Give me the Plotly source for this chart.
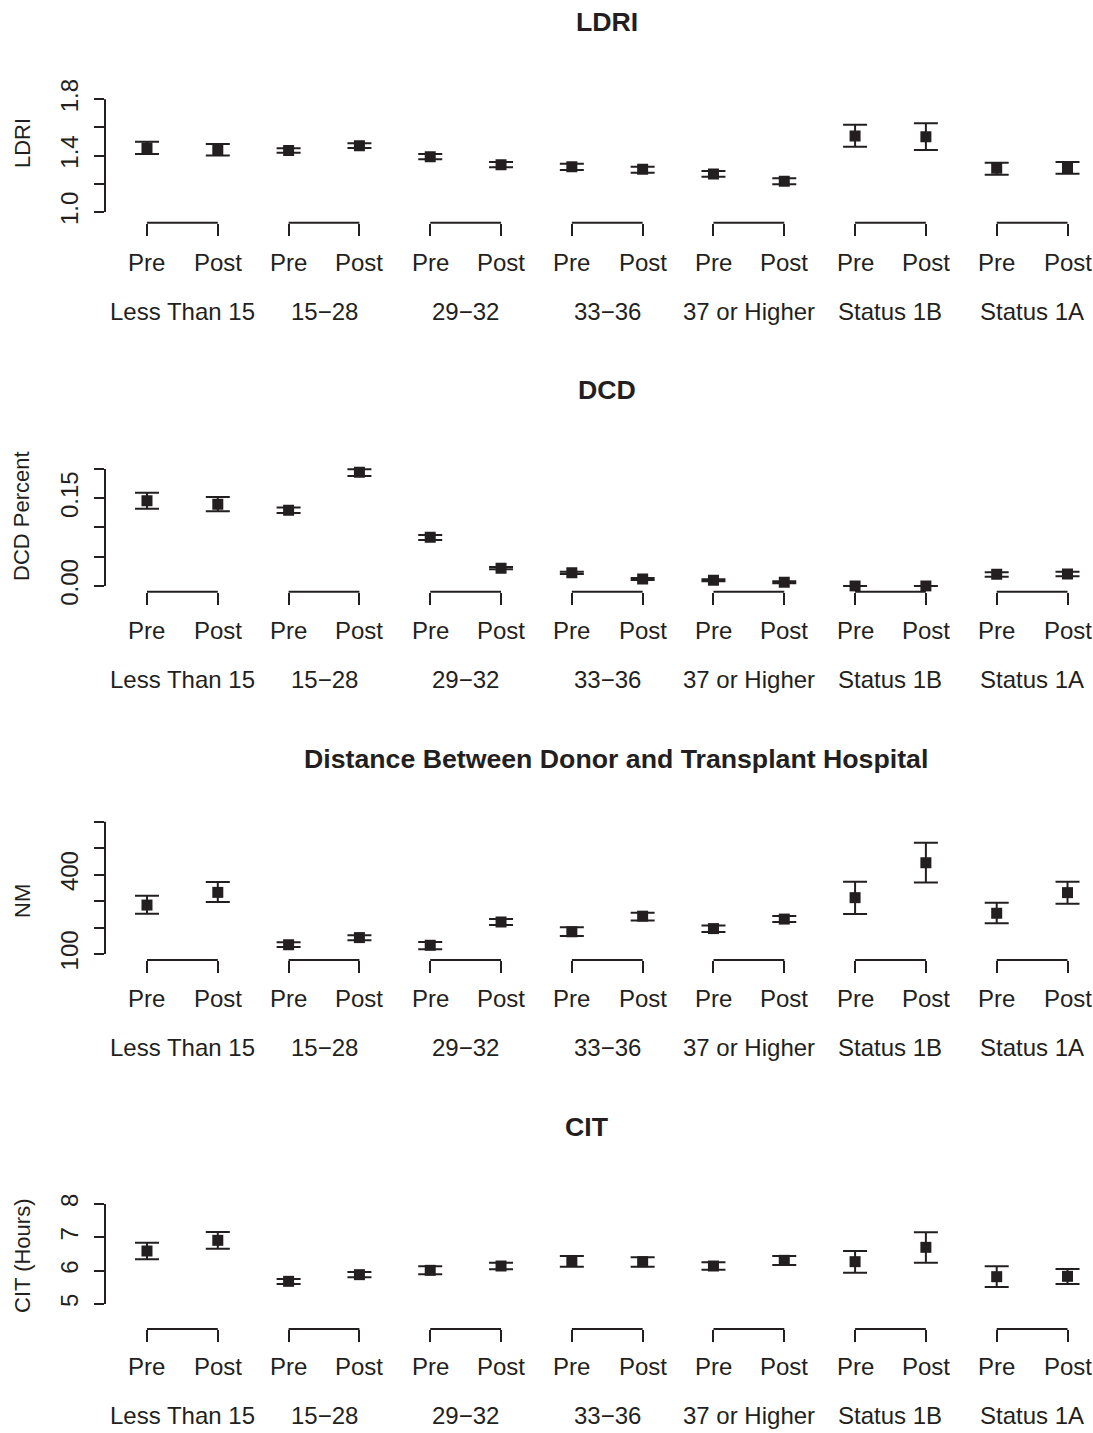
import plotly.graph_objects as go

# ---------------- data ----------------
groups = ["Less Than 15", "15\u221228", "29\u221232", "33\u221236", "37 or Higher", "Status 1B", "Status 1A"]
periods = ["Pre", "Post"]

ldri_mean = [1.454, 1.440, 1.437, 1.470, 1.392, 1.335, 1.321, 1.303, 1.270, 1.218, 1.539, 1.534, 1.310, 1.314]
ldri_low = [1.411, 1.400, 1.421, 1.454, 1.374, 1.317, 1.298, 1.279, 1.250, 1.196, 1.463, 1.440, 1.265, 1.272]
ldri_high = [1.499, 1.482, 1.452, 1.487, 1.411, 1.355, 1.343, 1.321, 1.291, 1.239, 1.619, 1.629, 1.350, 1.355]

dcd_mean = [0.1458, 0.1396, 0.1294, 0.1943, 0.0832, 0.0302, 0.0228, 0.0120, 0.0097, 0.0063, 0.0000, 0.0000, 0.0200, 0.0205]
dcd_low = [0.1320, 0.1277, 0.1248, 0.1880, 0.0786, 0.0285, 0.0205, 0.0103, 0.0080, 0.0046, 0.0000, 0.0000, 0.0160, 0.0165]
dcd_high = [0.1595, 0.1520, 0.1340, 0.1994, 0.0872, 0.0325, 0.0245, 0.0137, 0.0114, 0.0080, 0.0000, 0.0000, 0.0234, 0.0245]

nm_mean = [285, 333, 135, 162, 133, 221, 184, 243, 196, 232, 313, 445, 254, 332]
nm_low = [252, 297, 126, 152, 118, 210, 168, 227, 183, 221, 251, 370, 216, 290]
nm_high = [320, 372, 144, 171, 145, 232, 201, 256, 208, 244, 373, 521, 294, 373]

cit_mean = [6.59, 6.91, 5.68, 5.88, 6.01, 6.14, 6.29, 6.27, 6.14, 6.31, 6.27, 6.70, 5.82, 5.83]
cit_low = [6.34, 6.66, 5.60, 5.80, 5.89, 6.04, 6.12, 6.12, 6.03, 6.17, 5.94, 6.24, 5.51, 5.60]
cit_high = [6.84, 7.16, 5.75, 5.96, 6.13, 6.24, 6.44, 6.40, 6.25, 6.44, 6.59, 7.15, 6.13, 6.05]

titles = ["LDRI", "DCD", "Distance Between Donor and Transplant Hospital", "CIT"]
ytitles = ["LDRI", "DCD Percent", "NM", "CIT (Hours)"]
ytick_vals = [[1.0, 1.2, 1.4, 1.6, 1.8],
              [0.0, 0.05, 0.10, 0.15, 0.20],
              [100, 200, 300, 400, 500, 600],
              [5, 6, 7, 8]]
ytick_text = [["1.0", "", "1.4", "", "1.8"],
              ["0.00", "", "", "0.15", ""],
              ["100", "", "", "400", "", ""],
              ["5", "6", "7", "8"]]

series = [(ldri_mean, ldri_low, ldri_high),
          (dcd_mean, dcd_low, dcd_high),
          (nm_mean, nm_low, nm_high),
          (cit_mean, cit_low, cit_high)]

# ---------------- layout geometry (pixels) ----------------
W, H = 1093, 1433
INK = "#231f20"
FONT = "Liberation Sans, Arial, Helvetica, sans-serif"
period_px = 368.3
panel_dom = [(85, 222.7), (455, 591.7), (815, 960), (1190, 1329)]
panel_rng = [(0.9241, 1.9007), (-0.00974, 0.2239), (77.3, 625.5), (4.25, 8.42)]
title_x = [607, 607, 616, 587]
ytitle_y = [143, 516, 901, 1256]


def py(px):
    return 1 - px / H


x_left = 105 / W
x_pos = list(range(1, len(groups) * len(periods) + 1))
cat_labels = [p for g in groups for p in periods]

fig = go.Figure()
annotations = []
shapes = []
layout_axes = {}

for k in range(4):
    sfx = "" if k == 0 else str(k + 1)
    m, lo, hi = series[k]
    fig.add_trace(go.Scatter(
        x=x_pos, y=m, mode="markers",
        marker=dict(symbol="square", size=11, color=INK),
        error_y=dict(type="data", symmetric=False,
                     array=[h - v for h, v in zip(hi, m)],
                     arrayminus=[v - l for v, l in zip(m, lo)],
                     color=INK, thickness=2, width=12),
        xaxis="x" + sfx, yaxis="y" + sfx, showlegend=False, hoverinfo="skip"))

    top, bot = panel_dom[k]
    layout_axes["xaxis" + sfx] = dict(
        domain=[x_left, 1], range=[0.407, 14.36], anchor="y" + sfx,
        tickmode="array", tickvals=x_pos, ticks="outside", ticklen=12,
        tickwidth=2, tickcolor=INK, showticklabels=False,
        showline=False, showgrid=False, zeroline=False)
    layout_axes["yaxis" + sfx] = dict(
        domain=[py(bot), py(top)], range=list(panel_rng[k]), anchor="x" + sfx,
        tickmode="array", tickvals=ytick_vals[k], ticktext=ytick_text[k],
        ticks="outside", ticklen=10, tickwidth=2, tickcolor=INK,
        tickangle=-90, tickfont=dict(size=24, color=INK, family=FONT),
        ticklabelstandoff=6,
        showline=False, showgrid=False, zeroline=False)

    # R-style y axis line spanning first to last tick
    shapes.append(dict(type="line", xref="x" + sfx + " domain", yref="y" + sfx,
                       x0=0, x1=0, y0=ytick_vals[k][0], y1=ytick_vals[k][-1],
                       line=dict(color=INK, width=2)))
    # brackets joining Pre/Post within each group
    for g in range(len(groups)):
        shapes.append(dict(type="line", xref="x" + sfx, yref="y" + sfx + " domain",
                           x0=x_pos[2 * g], x1=x_pos[2 * g + 1], y0=0, y1=0,
                           line=dict(color=INK, width=2)))

    off = period_px * k
    for i, lab in enumerate(cat_labels):
        annotations.append(dict(x=x_pos[i], y=py(262 + off), xref="x" + sfx, yref="paper",
                                text=lab, showarrow=False, xanchor="center", yanchor="middle",
                                font=dict(size=24, color=INK, family=FONT)))
    for g, lab in enumerate(groups):
        annotations.append(dict(x=(x_pos[2 * g] + x_pos[2 * g + 1]) / 2, y=py(311 + off),
                                xref="x" + sfx, yref="paper", text=lab, showarrow=False,
                                xanchor="center", yanchor="middle",
                                font=dict(size=24, color=INK, family=FONT)))
    annotations.append(dict(x=title_x[k] / W, y=py(22 + off), xref="paper", yref="paper",
                            text="<b>" + titles[k] + "</b>", showarrow=False,
                            xanchor="center", yanchor="middle",
                            font=dict(size=26.7, color=INK, family=FONT)))
    annotations.append(dict(x=22 / W, y=py(ytitle_y[k]), xref="paper", yref="paper",
                            text=ytitles[k], showarrow=False, textangle=-90,
                            xanchor="center", yanchor="middle",
                            font=dict(size=22, color=INK, family=FONT)))

fig.update_layout(
    width=W, height=H, margin=dict(l=0, r=0, t=0, b=0, autoexpand=False),
    paper_bgcolor="white", plot_bgcolor="white",
    annotations=annotations, shapes=shapes, **layout_axes)

fig.write_html("out.html")
